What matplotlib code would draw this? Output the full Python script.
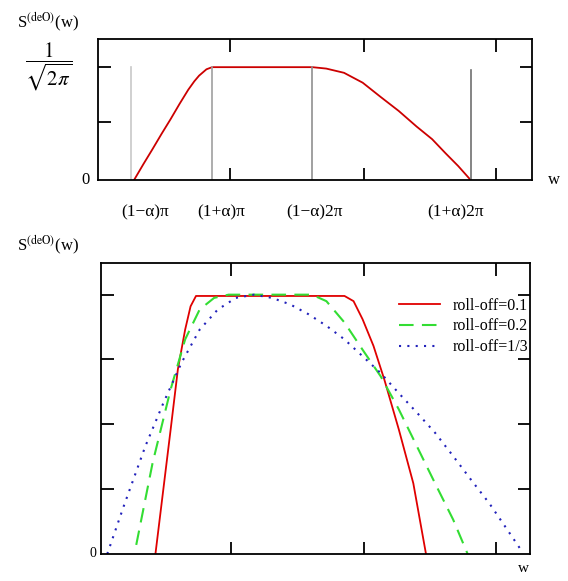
import matplotlib.pyplot as plt

plt.rcParams['font.family'] = ['Liberation Serif', 'DejaVu Serif']
plt.rcParams['mathtext.fontset'] = 'stix'

# top panel: single roll-off spectrum
top_x = [0.83, 1.05, 1.25, 1.47, 1.67, 1.88, 2.08, 2.22, 2.33, 2.50, 2.63, 4.94, 5.26, 5.67,
         6.10, 6.51, 6.93, 7.34, 7.70, 8.01, 8.30, 8.59]
top_y = [0.0, 0.115, 0.216, 0.33, 0.43, 0.54, 0.64, 0.70, 0.74, 0.785, 0.80, 0.80, 0.79, 0.76,
         0.69, 0.59, 0.49, 0.38, 0.29, 0.19, 0.10, 0.0]
top_marks = [0.76, 2.63, 4.94, 8.59]
top_mark_h = [0.80, 0.80, 0.80, 0.78]
top_mark_col = ['#c8c8c8', '#a0a0a0', '#909090', '#707070']
top_labels = ['(1\u2212\u03b1)\u03c0', '(1+\u03b1)\u03c0', '(1\u2212\u03b1)2\u03c0', '(1+\u03b1)2\u03c0']
top_label_x = [1.08, 2.85, 5.0, 8.23]

# bottom panel: three roll-off factors
red_x = [1.50, 1.92, 2.12, 2.32, 2.47, 2.62, 6.72, 6.97, 7.22, 7.52, 7.82, 8.22, 8.62, 8.97]
red_y = [0.0, 1.92, 2.85, 3.46, 3.82, 3.98, 3.98, 3.90, 3.62, 3.21, 2.69, 1.92, 1.09, 0.0]
green_x = [0.97, 1.42, 1.92, 2.32, 2.72, 3.12, 3.52, 5.82, 6.22, 6.72, 7.22, 7.72, 8.22, 8.72, 9.22, 9.72, 10.12]
green_y = [0.14, 1.40, 2.54, 3.31, 3.77, 3.95, 4.0, 4.0, 3.90, 3.57, 3.15, 2.74, 2.23, 1.66, 1.09, 0.53, 0.0]
blue_x = [0.17, 0.62, 1.22, 1.72, 2.22, 2.72, 3.22, 3.72, 4.22, 4.72, 5.22, 5.72, 6.22, 6.72,
          7.22, 7.72, 8.22, 8.72, 9.22, 9.72, 10.22, 10.72, 11.22, 11.62]
blue_y = [0.0, 0.73, 1.66, 2.33, 2.95, 3.46, 3.77, 3.95, 4.0, 3.95, 3.85, 3.70, 3.52, 3.31,
          3.05, 2.79, 2.48, 2.18, 1.87, 1.51, 1.14, 0.78, 0.37, 0.04]
legend_labels = ['roll-off=0.1', 'roll-off=0.2', 'roll-off=1/3']

fig = plt.figure(figsize=(5.68, 5.81), dpi=100)


def frame(ax):
    for s in ax.spines.values():
        s.set_linewidth(1.3)
    ax.tick_params(direction='in', length=9, width=1.3, top=True, right=True,
                   labelbottom=False, labelleft=False)


ax1 = fig.add_axes([0.1725, 0.690, 0.764, 0.243])
ax1.plot(top_x, top_y, color='#cc0000', lw=1.3)
for x, h, c in zip(top_marks, top_mark_h, top_mark_col):
    ax1.plot([x, x], [0, h], color=c, lw=1.2)
ax1.set_xlim(0, 10)
ax1.set_ylim(0, 1)
ax1.set_xticks([3.04, 6.13, 9.17])
ax1.set_yticks([0.41, 0.80])
frame(ax1)
for lx, lab in zip(top_label_x, top_labels):
    ax1.text(lx, -0.17, lab, ha='center', va='top', fontsize=12.5, transform=ax1.transData)
ax1.text(-0.02, 0.0, '0', ha='right', va='center', fontsize=12, transform=ax1.transAxes)
ax1.text(1.05, 0.0, 'w', ha='center', va='center', fontsize=12, transform=ax1.transAxes)
fig.text(0.085, 0.885, r'$\dfrac{1}{\sqrt{2\pi}}$', ha='center', va='center', fontsize=15)
fig.text(0.03, 0.962, r'S$^{\rm (deO)}$(w)', fontsize=12, va='center')

ax2 = fig.add_axes([0.178, 0.0465, 0.755, 0.501])
ax2.plot(red_x, red_y, color='#e00000', lw=1.3, label=legend_labels[0])
ax2.plot(green_x, green_y, color='#33dd33', lw=1.5, dashes=(7, 4), label=legend_labels[1])
ax2.plot(blue_x, blue_y, color='#2222bb', lw=1.5, ls=(0, (1, 3)), label=legend_labels[2])
ax2.set_xlim(0, 11.84)
ax2.set_ylim(0, 4.49)
ax2.set_xticks([3.6, 7.27, 10.9])
ax2.set_yticks([1, 2, 3, 4])
frame(ax2)
ax2.legend(loc='upper left', bbox_to_anchor=(0.66, 0.93), frameon=False, fontsize=11.5,
           handlelength=2.6, labelspacing=0.3)
ax2.text(-0.01, 0.0, '0', ha='right', va='center', fontsize=10, transform=ax2.transAxes)
ax2.text(0.985, -0.05, 'w', ha='center', va='center', fontsize=11, transform=ax2.transAxes)
fig.text(0.03, 0.578, r'S$^{\rm (deO)}$(w)', fontsize=12, va='center')

fig.savefig('out.png', dpi=100)
